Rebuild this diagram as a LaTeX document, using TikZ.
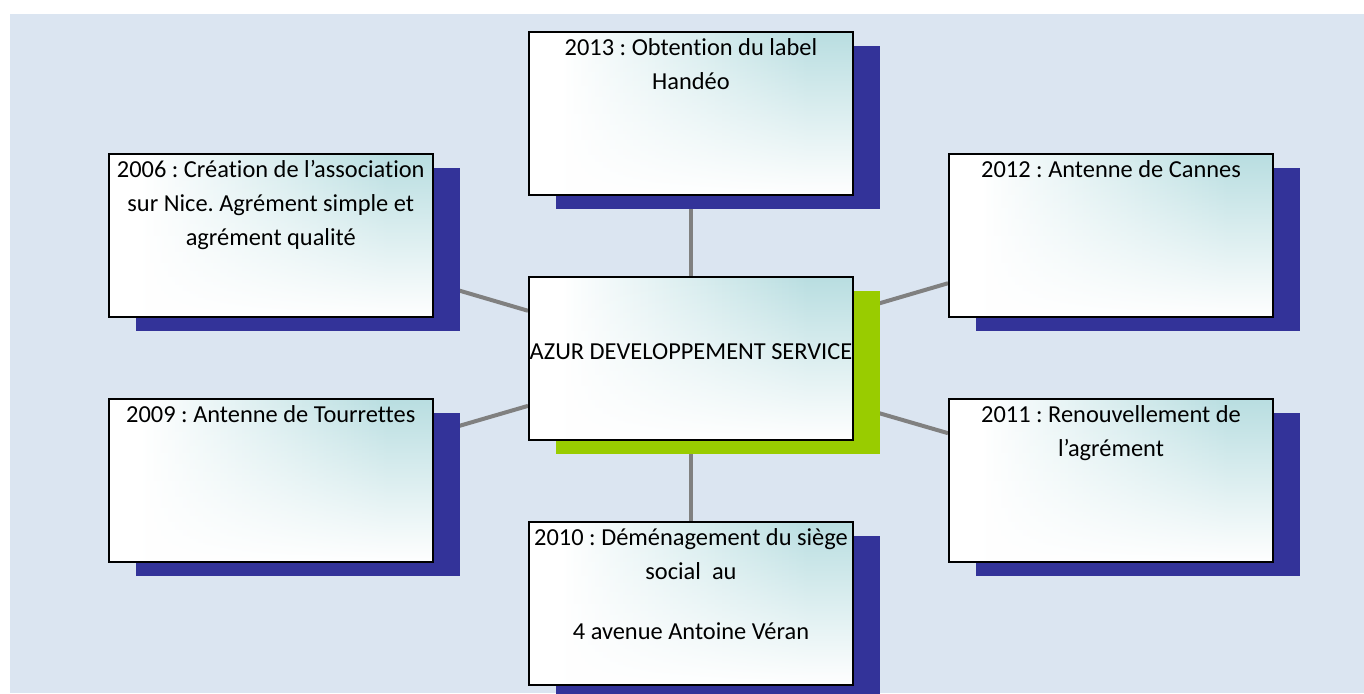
\documentclass[tikz,border=0pt]{standalone}
\usepackage{fontspec}
\setmainfont{Carlito}[Ligatures=NoCommon]
\frenchspacing
\usetikzlibrary{backgrounds,shadows,fadings}

\definecolor{pagebg}{HTML}{DBE5F1}
\definecolor{shadowblue}{HTML}{333399}
\definecolor{shadowgreen}{HTML}{99CC00}
\definecolor{glowteal}{HTML}{B9DEE1}
\definecolor{linkgray}{HTML}{808080}

\pgfdeclarehorizontalshading{glowshade}{100bp}{color(0bp)=(white); color(30bp)=(white); color(68bp)=(glowteal); color(100bp)=(glowteal)}
\tikzfading[name=glowfade, top color=transparent!0, middle color=transparent!55, bottom color=transparent!100]

\newcommand{\evtext}[1]{\parbox[t][81pt][t]{162pt}{\centering\rule{0pt}{11.7pt}#1}}

\tikzset{
  eventbox/.style={draw=black, line width=1pt, fill=white, inner sep=0pt,
    minimum width=162pt, minimum height=81.5pt,
    font=\fontsize{12.2pt}{17pt}\selectfont,
    path picture={\fill[shading=glowshade, path fading=glowfade]
      (path picture bounding box.south west) rectangle (path picture bounding box.north east);}},
  event/.style={eventbox,
    drop shadow={shadow xshift=13.5pt, shadow yshift=-7pt, fill=shadowblue, opacity=1}},
  hub/.style={eventbox,
    drop shadow={shadow xshift=13.5pt, shadow yshift=-7pt, fill=shadowgreen, opacity=1}},
  link/.style={draw=linkgray, line width=2pt}
}

\begin{document}
\begin{tikzpicture}[x=0.5pt, y=-0.5pt]
\useasboundingbox (0,0) rectangle (1364,693);

\node[hub] (azur) at (691,358.5) {\evtext{\\[12.3pt]AZUR DEVELOPPEMENT SERVICE}};

\node[event] (ev2013) at (691,113) {\evtext{2013 : Obtention du label\\Handéo}};
\node[event] (ev2006) at (270.75,235.5) {\evtext{2006 : Création de l’association\\sur Nice. Agrément simple et\\agrément qualité}};
\node[event] (ev2012) at (1111,235.5) {\evtext{2012 : Antenne de Cannes}};
\node[event] (ev2009) at (270.75,480.5) {\evtext{2009 : Antenne de Tourrettes}};
\node[event] (ev2011) at (1111,480.5) {\evtext{2011 : Renouvellement de\\l’agrément}};
\node[event] (ev2010) at (691,603) {\evtext{2010 : Déménagement du siège\\social\ \ au\\[13pt]4 avenue Antoine Véran}};

\begin{scope}[on background layer]
\fill[pagebg] (10,14) rectangle (1364,693);
\foreach \ev in {ev2013,ev2006,ev2012,ev2009,ev2011,ev2010}
  \draw[link] (azur) -- (\ev);
\end{scope}
\end{tikzpicture}
\end{document}
